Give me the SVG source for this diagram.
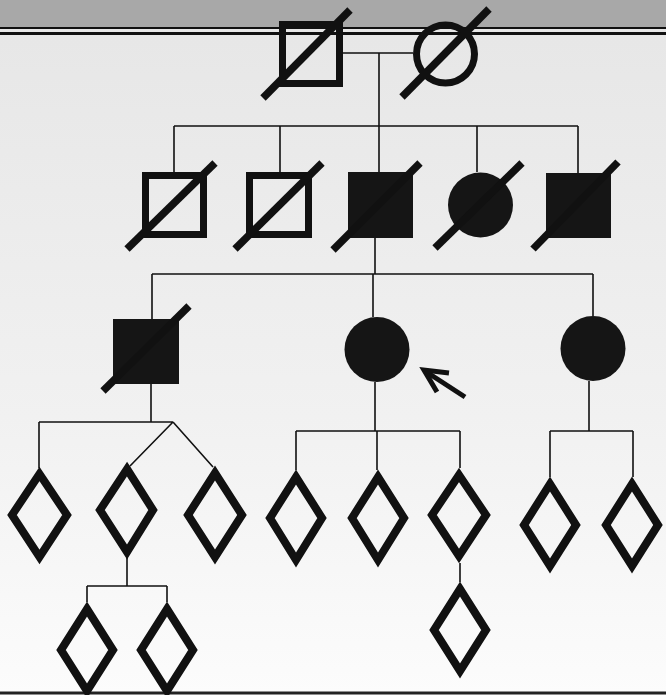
<svg xmlns="http://www.w3.org/2000/svg" width="666" height="695" viewBox="0 0 666 695">
  <defs>
    <linearGradient id="bg" x1="0" y1="0" x2="0" y2="1">
      <stop offset="0" stop-color="#e6e6e6"/>
      <stop offset="0.6" stop-color="#f1f1f1"/>
      <stop offset="1" stop-color="#fcfcfc"/>
    </linearGradient>
  </defs>
  <style>
    .open { fill: none; stroke: #111; stroke-width: 7; }
    .filled { fill: #151515; stroke: none; }
    .slash { stroke: #111; stroke-width: 7.5; stroke-linecap: butt; }
    .dia { fill: none; stroke: #111; stroke-width: 8; stroke-linejoin: miter; }
    .link { fill: none; stroke: #111; stroke-width: 1.6; }
    .arrow { fill: none; stroke: #111; stroke-width: 5; }
  </style>
  <rect x="0" y="0" width="666" height="695" fill="url(#bg)"/>
  <rect x="0" y="0" width="666" height="27" fill="#a8a8a8"/>
  <line x1="0" y1="28" x2="666" y2="28" stroke="#111" stroke-width="2"/>
  <line x1="0" y1="33.5" x2="666" y2="33.5" stroke="#111" stroke-width="3"/>
  <line x1="0" y1="693" x2="666" y2="693" stroke="#222" stroke-width="3"/>

  <g id="connectors">
    <path class="link" d="M343 53 H413 M379 53 V126"/>
    <path class="link" d="M174 126 H578 M174 126 V172 M280 126 V172 M379 126 V172 M477 126 V172 M578 126 V173"/>
    <path class="link" d="M375 238 V274 M152 274 H593 M152 274 V319 M373 274 V317 M593 274 V316"/>
    <path class="link" d="M151 384 V422 M39 422 H173 M39 422 V468 M173 422 L130 466 M173 422 L213 467"/>
    <path class="link" d="M127 558 V586 M87 586 H167 M87 586 V602 M167 586 V602"/>
    <path class="link" d="M375 382 V431 M296 431 H460 M296 431 V470 M377 431 V470 M460 431 V468 M460 563 V582"/>
    <path class="link" d="M589 381 V431 M550 431 H633 M550 431 V477 M633 431 V477"/>
  </g>

  <g id="I-1">
    <rect class="open" x="282.5" y="24.5" width="57" height="59"/>
    <line class="slash" x1="263" y1="98" x2="350" y2="10"/>
  </g>
  <g id="I-2">
    <circle class="open" cx="445.5" cy="54" r="29"/>
    <line class="slash" x1="402" y1="97" x2="489" y2="9"/>
  </g>

  <g id="II-1">
    <rect class="open" x="145.5" y="175.5" width="58" height="59"/>
    <line class="slash" x1="127" y1="249" x2="215" y2="163"/>
  </g>
  <g id="II-2">
    <rect class="open" x="249.5" y="175.5" width="59" height="59"/>
    <line class="slash" x1="235" y1="249" x2="322" y2="163"/>
  </g>
  <g id="II-3">
    <rect class="filled" x="348" y="172" width="65" height="66"/>
    <line class="slash" x1="333" y1="250" x2="420" y2="163"/>
  </g>
  <g id="II-4">
    <circle class="filled" cx="480.5" cy="205" r="32.5"/>
    <line class="slash" x1="435" y1="248" x2="522" y2="163"/>
  </g>
  <g id="II-5">
    <rect class="filled" x="546" y="173" width="65" height="65"/>
    <line class="slash" x1="533" y1="249" x2="618" y2="162"/>
  </g>

  <g id="III-1">
    <rect class="filled" x="113" y="319" width="66" height="65"/>
    <line class="slash" x1="103" y1="391" x2="189" y2="306"/>
  </g>
  <g id="III-2">
    <circle class="filled" cx="377" cy="349.5" r="32.5"/>
  </g>
  <g id="proband-arrow">
    <line class="arrow" x1="465" y1="397" x2="425" y2="371"/>
    <polyline class="arrow" points="437,392 424,370 449,373"/>
  </g>
  <g id="III-3">
    <circle class="filled" cx="593" cy="348.5" r="32.5"/>
  </g>

  <g id="IV-1"><polygon class="dia" points="39.5,474 67,515 39.5,557 12,515"/></g>
  <g id="IV-2"><polygon class="dia" points="127,469 153,510 127,552 100,510"/></g>
  <g id="IV-3"><polygon class="dia" points="215,473 242,515 215,557 188,515"/></g>
  <g id="IV-4"><polygon class="dia" points="296,477 322,518 296,560 270,518"/></g>
  <g id="IV-5"><polygon class="dia" points="378,477 404,518 378,560 352,518"/></g>
  <g id="IV-6"><polygon class="dia" points="459,475 486,515 459,556 432,515"/></g>
  <g id="IV-7"><polygon class="dia" points="550,484 576,525 550,566 524,525"/></g>
  <g id="IV-8"><polygon class="dia" points="632,484 658,525 632,566 606,525"/></g>

  <g id="V-1"><polygon class="dia" points="87,609 113,650 87,691 61,650"/></g>
  <g id="V-2"><polygon class="dia" points="167,609 193,650 167,691 141,650"/></g>
  <g id="V-3"><polygon class="dia" points="460,589 486,630 460,671 434,630"/></g>
</svg>
